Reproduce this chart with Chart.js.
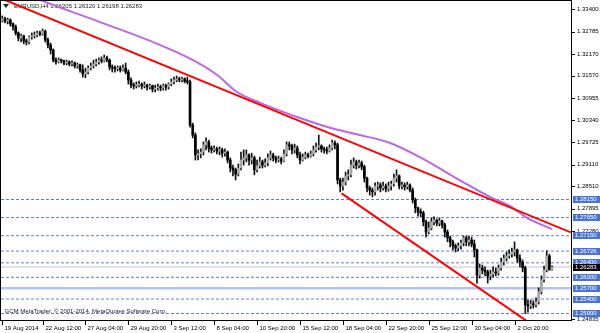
<!DOCTYPE html>
<html><head><meta charset="utf-8">
<script src="https://cdn.jsdelivr.net/npm/chart.js@4.4.0/dist/chart.umd.min.js"></script>
<style>html,body{margin:0;padding:0;background:#fff;overflow:hidden}</style>
</head><body>
<canvas id="c" width="600" height="333" style="display:block;width:600px;height:333px"></canvas>
<script>
const symbolTitle = 'EURUSD,H4 1.26205 1.26320 1.26198 1.26283';
const copyright = 'GCM MetaTrader, \u00A9 2001-2014, MetaQuotes Software Corp.';

const opens = [
1.3308,1.3314,1.3308,1.3311,1.3300,1.3292,1.3275,1.3261,1.3267,1.3253,
1.3250,1.3264,1.3267,1.3269,1.3275,1.3272,1.3280,1.3256,1.3242,1.3228,
1.3200,1.3195,1.3200,1.3198,1.3192,1.3195,1.3189,1.3192,1.3184,1.3187,
1.3173,1.3162,1.3167,1.3178,1.3184,1.3189,1.3195,1.3200,1.3198,1.3206,
1.3200,1.3181,1.3178,1.3176,1.3178,1.3173,1.3178,1.3167,1.3145,1.3131,
1.3129,1.3131,1.3134,1.3129,1.3131,1.3126,1.3129,1.3120,1.3123,1.3126,
1.3123,1.3129,1.3126,1.3134,1.3140,1.3145,1.3148,1.3145,1.3148,1.3142,
1.3140,1.3021,1.2993,1.2938,1.2941,1.2946,1.2966,1.2974,1.2957,1.2952,
1.2955,1.2949,1.2952,1.2943,1.2946,1.2924,1.2902,1.2897,1.2885,1.2902,
1.2924,1.2930,1.2938,1.2924,1.2930,1.2897,1.2908,1.2919,1.2910,1.2916,
1.2930,1.2938,1.2930,1.2924,1.2927,1.2921,1.2941,1.2966,1.2963,1.2952,
1.2957,1.2938,1.2924,1.2932,1.2938,1.2935,1.2941,1.2952,1.2960,1.2963,
1.2955,1.2952,1.2949,1.2957,1.2971,1.2966,1.2869,1.2852,1.2863,1.2880,
1.2883,1.2910,1.2919,1.2910,1.2916,1.2905,1.2874,1.2847,1.2841,1.2836,
1.2852,1.2855,1.2847,1.2852,1.2844,1.2852,1.2858,1.2874,1.2880,1.2852,
1.2855,1.2850,1.2855,1.2841,1.2814,1.2792,1.2780,1.2778,1.2753,1.2725,
1.2736,1.2753,1.2758,1.2750,1.2756,1.2745,1.2725,1.2709,1.2698,1.2687,
1.2681,1.2687,1.2695,1.2709,1.2698,1.2703,1.2692,1.2676,1.2606,1.2626,
1.2620,1.2615,1.2604,1.2609,1.2615,1.2612,1.2626,1.2642,1.2653,1.2659,
1.2664,1.2670,1.2676,1.2653,1.2642,1.2626,1.2524,1.2521,1.2526,1.2524,
1.2532,1.2560,1.2593,1.2620,1.2659,1.26205];

const highs = [
1.3322,1.3319,1.3316,1.3314,1.3303,1.3297,1.3278,1.3272,1.3269,1.3258,
1.3267,1.3275,1.3278,1.3280,1.3280,1.3286,1.3283,1.3261,1.3247,1.3231,
1.3206,1.3206,1.3203,1.3200,1.3200,1.3198,1.3198,1.3195,1.3192,1.3189,
1.3187,1.3178,1.3184,1.3192,1.3200,1.3203,1.3206,1.3209,1.3214,1.3211,
1.3203,1.3187,1.3184,1.3184,1.3184,1.3187,1.3192,1.3173,1.3151,1.3137,
1.3140,1.3142,1.3137,1.3140,1.3134,1.3134,1.3131,1.3131,1.3134,1.3131,
1.3134,1.3134,1.3137,1.3148,1.3153,1.3156,1.3153,1.3153,1.3151,1.3153,
1.3145,1.3026,1.2999,1.2952,1.2955,1.2974,1.2985,1.2979,1.2963,1.2963,
1.2960,1.2960,1.2957,1.2955,1.2949,1.2930,1.2910,1.2902,1.2913,1.2946,
1.2952,1.2952,1.2941,1.2943,1.2935,1.2924,1.2932,1.2924,1.2927,1.2941,
1.2949,1.2943,1.2935,1.2935,1.2932,1.2952,1.2974,1.2974,1.2968,1.2968,
1.2963,1.2946,1.2941,1.2946,1.2943,1.2949,1.2963,1.2971,1.2993,1.2966,
1.2960,1.2960,1.2966,1.2979,1.2977,1.2971,1.2874,1.2874,1.2891,1.2897,
1.2924,1.2930,1.2924,1.2924,1.2921,1.2910,1.2877,1.2852,1.2847,1.2861,
1.2863,1.2861,1.2863,1.2858,1.2863,1.2866,1.2885,1.2897,1.2883,1.2863,
1.2861,1.2863,1.2858,1.2847,1.2819,1.2794,1.2789,1.2783,1.2758,1.2753,
1.2764,1.2767,1.2761,1.2764,1.2758,1.2750,1.2731,1.2714,1.2703,1.2692,
1.2695,1.2703,1.2714,1.2714,1.2714,1.2711,1.2703,1.2678,1.2637,1.2634,
1.2629,1.2620,1.2620,1.2629,1.2626,1.2634,1.2653,1.2662,1.2670,1.2676,
1.2681,1.2698,1.2678,1.2662,1.2648,1.2631,1.2537,1.2537,1.2535,1.2543,
1.2571,1.2604,1.2631,1.2673,1.2664,1.26320];

const lows = [
1.3305,1.3303,1.3300,1.3294,1.3283,1.3269,1.3253,1.3250,1.3245,1.3242,
1.3245,1.3258,1.3261,1.3264,1.3267,1.3269,1.3250,1.3234,1.3217,1.3195,
1.3189,1.3192,1.3192,1.3187,1.3187,1.3184,1.3184,1.3178,1.3178,1.3167,
1.3153,1.3151,1.3162,1.3173,1.3178,1.3184,1.3189,1.3192,1.3195,1.3195,
1.3173,1.3167,1.3167,1.3170,1.3167,1.3170,1.3162,1.3134,1.3123,1.3120,
1.3123,1.3126,1.3120,1.3123,1.3117,1.3120,1.3112,1.3112,1.3117,1.3115,
1.3117,1.3117,1.3120,1.3129,1.3134,1.3140,1.3140,1.3140,1.3137,1.3134,
1.3015,1.2985,1.2924,1.2924,1.2930,1.2938,1.2952,1.2946,1.2943,1.2946,
1.2941,1.2938,1.2932,1.2935,1.2916,1.2891,1.2880,1.2869,1.2880,1.2897,
1.2910,1.2919,1.2910,1.2913,1.2883,1.2891,1.2902,1.2902,1.2905,1.2908,
1.2924,1.2921,1.2916,1.2919,1.2913,1.2919,1.2935,1.2952,1.2941,1.2943,
1.2930,1.2913,1.2921,1.2927,1.2930,1.2932,1.2935,1.2946,1.2952,1.2946,
1.2943,1.2941,1.2946,1.2952,1.2955,1.2858,1.2836,1.2841,1.2855,1.2869,
1.2877,1.2902,1.2899,1.2902,1.2897,1.2863,1.2836,1.2827,1.2822,1.2827,
1.2841,1.2836,1.2841,1.2836,1.2838,1.2841,1.2852,1.2863,1.2844,1.2844,
1.2841,1.2844,1.2836,1.2805,1.2778,1.2769,1.2767,1.2742,1.2711,1.2720,
1.2731,1.2745,1.2742,1.2742,1.2736,1.2711,1.2698,1.2684,1.2676,1.2670,
1.2673,1.2678,1.2687,1.2687,1.2687,1.2684,1.2656,1.2584,1.2598,1.2609,
1.2604,1.2584,1.2593,1.2601,1.2604,1.2606,1.2620,1.2634,1.2645,1.2653,
1.2656,1.2659,1.2642,1.2629,1.2615,1.2500,1.2504,1.2513,1.2515,1.2518,
1.2526,1.2554,1.2587,1.2615,1.2620,1.26198];

const closes = [
1.3314,1.3308,1.3311,1.3300,1.3292,1.3275,1.3261,1.3267,1.3253,1.3250,
1.3264,1.3267,1.3269,1.3275,1.3272,1.3280,1.3256,1.3242,1.3228,1.3200,
1.3195,1.3200,1.3198,1.3192,1.3195,1.3189,1.3192,1.3184,1.3187,1.3173,
1.3162,1.3167,1.3178,1.3184,1.3189,1.3195,1.3200,1.3198,1.3206,1.3200,
1.3181,1.3178,1.3176,1.3178,1.3173,1.3178,1.3167,1.3145,1.3131,1.3129,
1.3131,1.3134,1.3129,1.3131,1.3126,1.3129,1.3120,1.3123,1.3126,1.3123,
1.3129,1.3126,1.3134,1.3140,1.3145,1.3148,1.3145,1.3148,1.3142,1.3140,
1.3021,1.2993,1.2938,1.2941,1.2946,1.2966,1.2974,1.2957,1.2952,1.2955,
1.2949,1.2952,1.2943,1.2946,1.2924,1.2902,1.2897,1.2885,1.2902,1.2924,
1.2930,1.2938,1.2924,1.2930,1.2897,1.2908,1.2919,1.2910,1.2916,1.2930,
1.2938,1.2930,1.2924,1.2927,1.2921,1.2941,1.2966,1.2963,1.2952,1.2957,
1.2938,1.2924,1.2932,1.2938,1.2935,1.2941,1.2952,1.2960,1.2963,1.2955,
1.2952,1.2949,1.2957,1.2971,1.2966,1.2869,1.2852,1.2863,1.2880,1.2883,
1.2910,1.2919,1.2910,1.2916,1.2905,1.2874,1.2847,1.2841,1.2836,1.2852,
1.2855,1.2847,1.2852,1.2844,1.2852,1.2858,1.2874,1.2880,1.2852,1.2855,
1.2850,1.2855,1.2841,1.2814,1.2792,1.2780,1.2778,1.2753,1.2725,1.2736,
1.2753,1.2758,1.2750,1.2756,1.2745,1.2725,1.2709,1.2698,1.2687,1.2681,
1.2687,1.2695,1.2709,1.2698,1.2703,1.2692,1.2676,1.2606,1.2626,1.2620,
1.2615,1.2604,1.2609,1.2615,1.2612,1.2626,1.2642,1.2653,1.2659,1.2664,
1.2670,1.2676,1.2653,1.2642,1.2626,1.2524,1.2521,1.2526,1.2524,1.2532,
1.2560,1.2593,1.2620,1.2659,1.26205,1.26283];

// moving average, bar index / price
const maIndex = [6.6, 14.1, 36.4, 55.1, 71.1, 80.1, 87.5, 96.1, 104.7, 111.0, 122.2, 133.4, 144.6, 155.7, 171.8, 181.8, 190.4, 195.6, 205];
const maValue = [1.3388, 1.3366, 1.3305, 1.3253, 1.3200, 1.3159, 1.3112, 1.3082, 1.3057, 1.3040, 1.3013, 1.2993, 1.2971, 1.2932, 1.2863, 1.2822, 1.2792, 1.2764, 1.2733];

// trend lines: [bar index, price]
const upperTrend = [[-1, 1.3372], [212, 1.2724]];
const lowerTrend = [[126.5, 1.2832], [200.5, 1.2454]];

// horizontal levels
const dottedLevels = [1.28150, 1.27650, 1.27150, 1.26726, 1.26400, 1.26000, 1.25400, 1.25000];
const solidLevels = [1.25700];
const bidPrice = 1.26283;

// axis ticks
const yTickValues = [1.33400, 1.32785, 1.32170, 1.31570, 1.30955, 1.30340, 1.29725, 1.29110, 1.28510, 1.27895, 1.27280, 1.24835];
const xTickIndex = [0, 15, 31, 47, 63, 79, 95, 111, 127, 143, 159, 175, 191];
const xTickLabels = ['19 Aug 2014','22 Aug 12:00','27 Aug 04:00','29 Aug 20:00','3 Sep 12:00','8 Sep 04:00','10 Sep 20:00','15 Sep 12:00','18 Sep 04:00','22 Sep 20:00','25 Sep 12:00','30 Sep 04:00','2 Oct 20:00'];

const xMin = -0.485, xMax = 212.05, yMin = 1.24821, yMax = 1.33633;

const FONT = '6px "Liberation Sans", Arial, sans-serif';
const idx = opens.map((_, i) => i);

function hline(v, color, width, dash, order) {
  return { type: 'line', data: [{x: xMin, y: v}, {x: xMax, y: v}], borderColor: color, borderWidth: width,
    borderDash: dash, pointRadius: 0, order: order, clip: 0 };
}

const overlay = {
  id: 'overlay',
  beforeDatasetsDraw(chart) {
    const ctx = chart.ctx;
    ctx.save();
    ctx.font = FONT; ctx.fillStyle = '#222'; ctx.textBaseline = 'middle'; ctx.textAlign = 'left';
    ctx.beginPath(); ctx.moveTo(3, 4); ctx.lineTo(9, 4); ctx.lineTo(6, 8); ctx.closePath(); ctx.fill();
    ctx.fillText(symbolTitle, 14, 6.5);
    ctx.fillText(copyright, 4.5, 311.5);
    ctx.restore();
  },
  afterDraw(chart) {
    const ctx = chart.ctx, ca = chart.chartArea;
    const xs = chart.scales.x, ys = chart.scales.y;
    ctx.save();
    ctx.strokeStyle = '#000'; ctx.lineWidth = 1;
    ctx.strokeRect(ca.left - 0.5, ca.top - 0.5, ca.right - ca.left + 1, ca.bottom - ca.top + 1);
    ctx.font = FONT; ctx.textBaseline = 'middle'; ctx.textAlign = 'left';
    // plain y labels
    ctx.fillStyle = '#000';
    yTickValues.forEach(v => {
      const y = Math.min(ys.getPixelForValue(v), ca.bottom - 1);
      ctx.beginPath(); ctx.moveTo(ca.right + 1, Math.round(y) + 0.5); ctx.lineTo(ca.right + 4, Math.round(y) + 0.5); ctx.stroke();
      ctx.fillText(v.toFixed(5), ca.right + 6, y);
    });
    // x labels
    xTickIndex.forEach((ix, k) => {
      const x = Math.round(xs.getPixelForValue(ix)) + 0.5;
      ctx.beginPath(); ctx.moveTo(x, ca.bottom + 1); ctx.lineTo(x, ca.bottom + 5); ctx.stroke();
      ctx.fillText(xTickLabels[k], x + 2, ca.bottom + 8);
    });
    // highlighted level labels
    const lv = dottedLevels.concat(solidLevels).sort((a, b) => b - a);
    lv.forEach(v => {
      const y = ys.getPixelForValue(v);
      ctx.fillStyle = '#4a72db';
      ctx.fillRect(ca.right + 2, Math.round(y - 3.5), 27, 7);
      ctx.fillStyle = '#fff';
      ctx.fillText(v.toFixed(5), ca.right + 4, y);
    });
    const yb = ys.getPixelForValue(bidPrice);
    ctx.fillStyle = '#000';
    ctx.fillRect(ca.right + 2, Math.round(yb - 3.5), 27, 7);
    ctx.fillStyle = '#fff';
    ctx.fillText(bidPrice.toFixed(5), ca.right + 4, yb);
    ctx.restore();
  }
};

const datasets = [];
dottedLevels.forEach(v => datasets.push(hline(v, '#6479d6', 1, [3, 2], 9)));
solidLevels.forEach(v => datasets.push(hline(v, '#b4c2f2', 2.5, [], 9)));
datasets.push(hline(bidPrice, '#c4c4c4', 1, [], 9));
datasets.push({ type: 'bar', data: idx.map(i => ({x: i, y: [lows[i], highs[i]]})), backgroundColor: '#111',
  barThickness: 1, grouped: false, minBarLength: 1, order: 6 });
datasets.push({ type: 'bar', data: idx.map(i => ({x: i, y: [opens[i], closes[i]]})),
  backgroundColor: idx.map(i => closes[i] >= opens[i] ? '#a8a8a8' : '#000'),
  barThickness: 2, grouped: false, minBarLength: 1, order: 5 });
datasets.push({ type: 'line', data: maIndex.map((x, k) => ({x: x, y: maValue[k]})), borderColor: '#bf66e2', borderWidth: 2,
  pointRadius: 0, cubicInterpolationMode: 'monotone', order: 3, clip: 0 });
datasets.push({ type: 'line', data: upperTrend.map(p => ({x: p[0], y: p[1]})), borderColor: '#ff0000', borderWidth: 2, pointRadius: 0, order: 2, clip: 0 });
datasets.push({ type: 'line', data: lowerTrend.map(p => ({x: p[0], y: p[1]})), borderColor: '#ff0000', borderWidth: 2, pointRadius: 0, order: 2, clip: 0 });

new Chart(document.getElementById('c'), {
  type: 'bar',
  data: { datasets: datasets },
  options: {
    responsive: false, animation: false, devicePixelRatio: 1, events: [],
    layout: { padding: { left: 1, top: 1, right: 29, bottom: 13 } },
    plugins: { legend: { display: false }, tooltip: { enabled: false } },
    scales: {
      x: { type: 'linear', min: xMin, max: xMax, display: false, offset: false, grid: { display: false } },
      y: { type: 'linear', min: yMin, max: yMax, display: false, grid: { display: false } }
    }
  },
  plugins: [overlay]
});
</script>
</body></html>
